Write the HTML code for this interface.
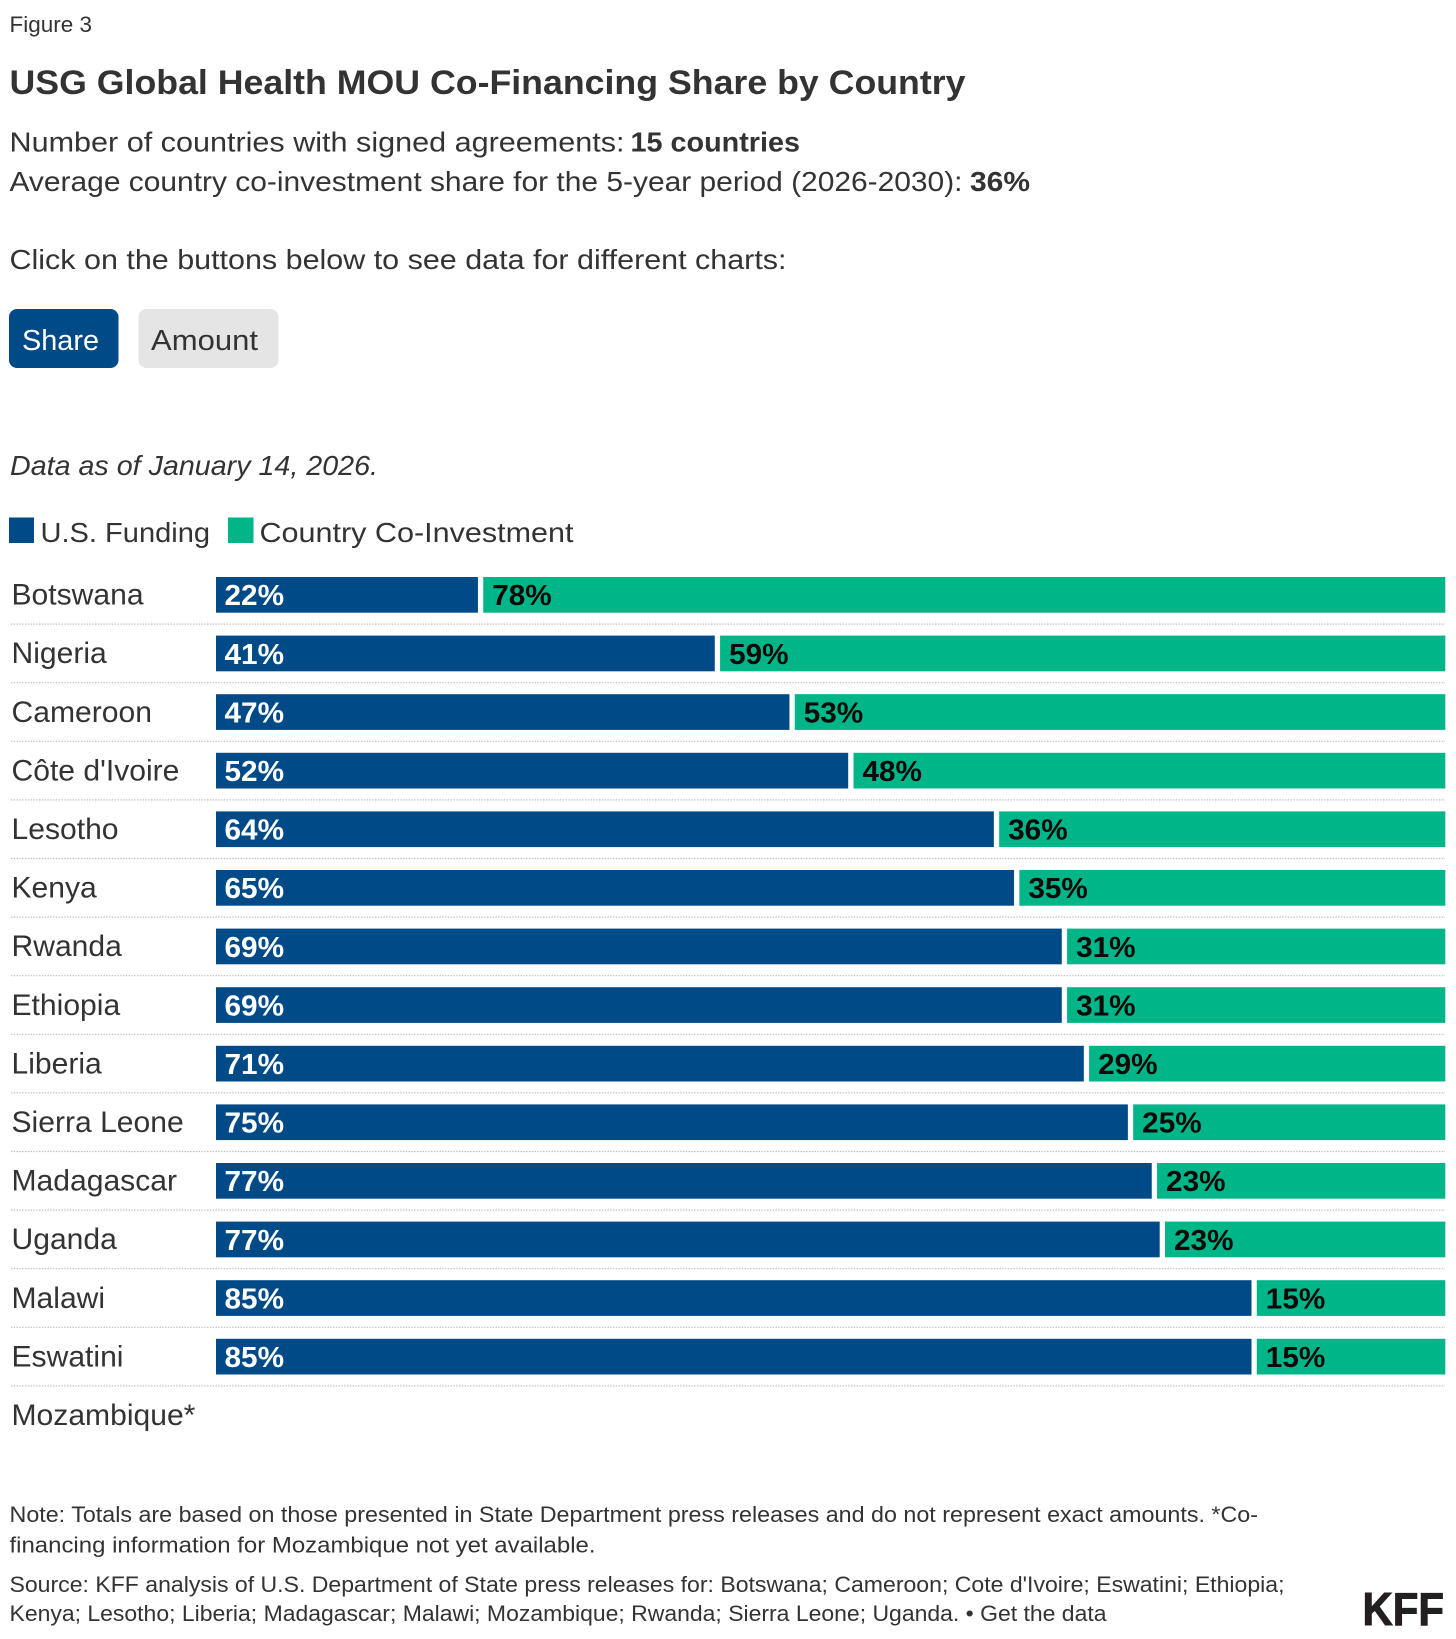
<!DOCTYPE html>
<html lang="en">
<head>
<meta charset="utf-8">
<title>USG Global Health MOU Co-Financing Share by Country</title>
<style>
  html, body { margin: 0; padding: 0; background: #fff; }
  body { width: 1456px; height: 1639px; overflow: hidden; }
  svg { display: block; font-family: "Liberation Sans", sans-serif; fill: #333; }
  .btn { cursor: pointer; }
</style>
</head>
<body>
<svg id="figure" width="1456" height="1639" viewBox="0 0 1456 1639" xmlns="http://www.w3.org/2000/svg">
  <rect x="0" y="0" width="1456" height="1639" fill="#ffffff"/>

  <text x="9.5" y="32" font-size="22" textLength="82.5" lengthAdjust="spacingAndGlyphs">Figure 3</text>
  <text x="9.5" y="94" font-size="34" font-weight="700" textLength="956" lengthAdjust="spacingAndGlyphs">USG Global Health MOU Co-Financing Share by Country</text>

  <text x="9.5" y="151.5" font-size="28" textLength="615" lengthAdjust="spacingAndGlyphs">Number of countries with signed agreements:</text>
  <text x="630.5" y="151.5" font-size="28" font-weight="700" textLength="169.5" lengthAdjust="spacingAndGlyphs">15 countries</text>
  <text x="9.5" y="191" font-size="28" textLength="953" lengthAdjust="spacingAndGlyphs">Average country co-investment share for the 5-year period (2026-2030):</text>
  <text x="970" y="191" font-size="28" font-weight="700" textLength="60" lengthAdjust="spacingAndGlyphs">36%</text>
  <text x="9.5" y="269" font-size="28" textLength="777" lengthAdjust="spacingAndGlyphs">Click on the buttons below to see data for different charts:</text>

  <g class="btn">
    <rect x="9" y="309" width="109.5" height="59" rx="8" fill="#004B87"/>
    <text x="22" y="350" font-size="29" fill="#ffffff" textLength="77" lengthAdjust="spacingAndGlyphs">Share</text>
  </g>
  <g class="btn">
    <rect x="138.5" y="309" width="140" height="59" rx="8" fill="#E5E5E5"/>
    <text x="151" y="350" font-size="29" textLength="107" lengthAdjust="spacingAndGlyphs">Amount</text>
  </g>

  <text x="10" y="475" font-size="28" font-style="italic" textLength="368" lengthAdjust="spacingAndGlyphs">Data as of January 14, 2026.</text>

  <rect x="9" y="517.5" width="25" height="25.5" fill="#004B87"/>
  <text x="40.5" y="542" font-size="28" textLength="169.5" lengthAdjust="spacingAndGlyphs">U.S. Funding</text>
  <rect x="228" y="517.5" width="25.5" height="25.5" fill="#00B587"/>
  <text x="259.5" y="542" font-size="28" textLength="314" lengthAdjust="spacingAndGlyphs">Country Co-Investment</text>

  <g id="chart"></g>

  <text x="9.5" y="1522" font-size="22" textLength="1248.5" lengthAdjust="spacingAndGlyphs">Note: Totals are based on those presented in State Department press releases and do not represent exact amounts. *Co-</text>
  <text x="9.5" y="1552.5" font-size="22" textLength="586" lengthAdjust="spacingAndGlyphs">financing information for Mozambique not yet available.</text>
  <text x="9.5" y="1592" font-size="22" textLength="1275" lengthAdjust="spacingAndGlyphs">Source: KFF analysis of U.S. Department of State press releases for: Botswana; Cameroon; Cote d'Ivoire; Eswatini; Ethiopia;</text>
  <text x="9.5" y="1621" font-size="22" textLength="1097" lengthAdjust="spacingAndGlyphs">Kenya; Lesotho; Liberia; Madagascar; Malawi; Mozambique; Rwanda; Sierra Leone; Uganda. • Get the data</text>
  <text x="1362.5" y="1625" font-size="46" font-weight="700" fill="#231f20" stroke="#231f20" stroke-width="1" textLength="81.5" lengthAdjust="spacingAndGlyphs">KFF</text>
</svg>

<script>
const categories = ["Botswana", "Nigeria", "Cameroon", "Côte d'Ivoire", "Lesotho", "Kenya", "Rwanda", "Ethiopia", "Liberia", "Sierra Leone", "Madagascar", "Uganda", "Malawi", "Eswatini", "Mozambique*"];
const usFunding = [21.4, 40.75, 46.85, 51.65, 63.55, 65.2, 69.1, 69.1, 70.9, 74.5, 76.45, 77.1, 84.6, 84.6, null];
const coInvestment = [78.6, 59.25, 53.15, 48.35, 36.45, 34.8, 30.9, 30.9, 29.1, 25.5, 23.55, 22.9, 15.4, 15.4, null];
const usLabels = ["22%", "41%", "47%", "52%", "64%", "65%", "69%", "69%", "71%", "75%", "77%", "77%", "85%", "85%", null];
const coLabels = ["78%", "59%", "53%", "48%", "36%", "35%", "31%", "31%", "29%", "25%", "23%", "23%", "15%", "15%", null];

const SVG_NS = "http://www.w3.org/2000/svg";
const chart = document.getElementById("chart");
const plotLeft = 216;
const plotWidth = 1224;
const segmentGap = 5.3;
const rowTop = 577;
const rowStep = 58.6;
const barHeight = 35.7;

function xScale(v) { return plotLeft + (v / 100) * plotWidth; }
function lengthScale(v) { return (v / 100) * plotWidth; }
function yScale(i) { return rowTop + i * rowStep; }

function slug(s) {
  return s.toLowerCase().normalize("NFD").replace(/[^a-z]+/g, "-").replace(/^-|-$/g, "");
}

categories.forEach(function (name, i) {
  const y = yScale(i);
  const key = slug(name);

  const label = document.createElementNS(SVG_NS, "text");
  
  
  label.setAttribute("transform", "translate(11.5," + (y + 27.6) + ") scale(1.02,1)");
  label.setAttribute("font-size", "29.5");
  label.textContent = name;
  chart.appendChild(label);

  if (i < categories.length - 1) {
    const sep = document.createElementNS(SVG_NS, "line");
    
    
    sep.setAttribute("x1", "11");
    sep.setAttribute("x2", "1445");
    sep.setAttribute("y1", y + 47.1);
    sep.setAttribute("y2", y + 47.1);
    sep.setAttribute("stroke", "#bdbdbd");
    sep.setAttribute("stroke-width", "1.2");
    sep.setAttribute("stroke-dasharray", "1.4 1.4");
    chart.appendChild(sep);
  }

  if (usFunding[i] === null) return;

  const usBar = document.createElementNS(SVG_NS, "rect");
  
  
  usBar.setAttribute("x", plotLeft);
  usBar.setAttribute("y", y);
  usBar.setAttribute("width", lengthScale(usFunding[i]));
  usBar.setAttribute("height", barHeight);
  usBar.setAttribute("fill", "#004B87");
  chart.appendChild(usBar);

  const coStart = xScale(usFunding[i]) + segmentGap;
  const coBar = document.createElementNS(SVG_NS, "rect");
  
  
  coBar.setAttribute("x", coStart);
  coBar.setAttribute("y", y);
  coBar.setAttribute("width", lengthScale(coInvestment[i]));
  coBar.setAttribute("height", barHeight);
  coBar.setAttribute("fill", "#00B587");
  chart.appendChild(coBar);

  const usText = document.createElementNS(SVG_NS, "text");
  
  
  usText.setAttribute("x", plotLeft + 8.5);
  usText.setAttribute("y", y + 28.2);
  usText.setAttribute("font-size", "29");
  usText.setAttribute("font-weight", "700");
  usText.setAttribute("fill", "#ffffff");
  usText.setAttribute("textLength", "59.5");
  usText.setAttribute("lengthAdjust", "spacingAndGlyphs");
  usText.textContent = usLabels[i];
  chart.appendChild(usText);

  const coText = document.createElementNS(SVG_NS, "text");
  
  
  coText.setAttribute("x", coStart + 9);
  coText.setAttribute("y", y + 28.2);
  coText.setAttribute("font-size", "29");
  coText.setAttribute("font-weight", "700");
  coText.setAttribute("fill", "#0a0a0a");
  coText.setAttribute("textLength", "59.5");
  coText.setAttribute("lengthAdjust", "spacingAndGlyphs");
  coText.textContent = coLabels[i];
  chart.appendChild(coText);
});
</script>
</body>
</html>
